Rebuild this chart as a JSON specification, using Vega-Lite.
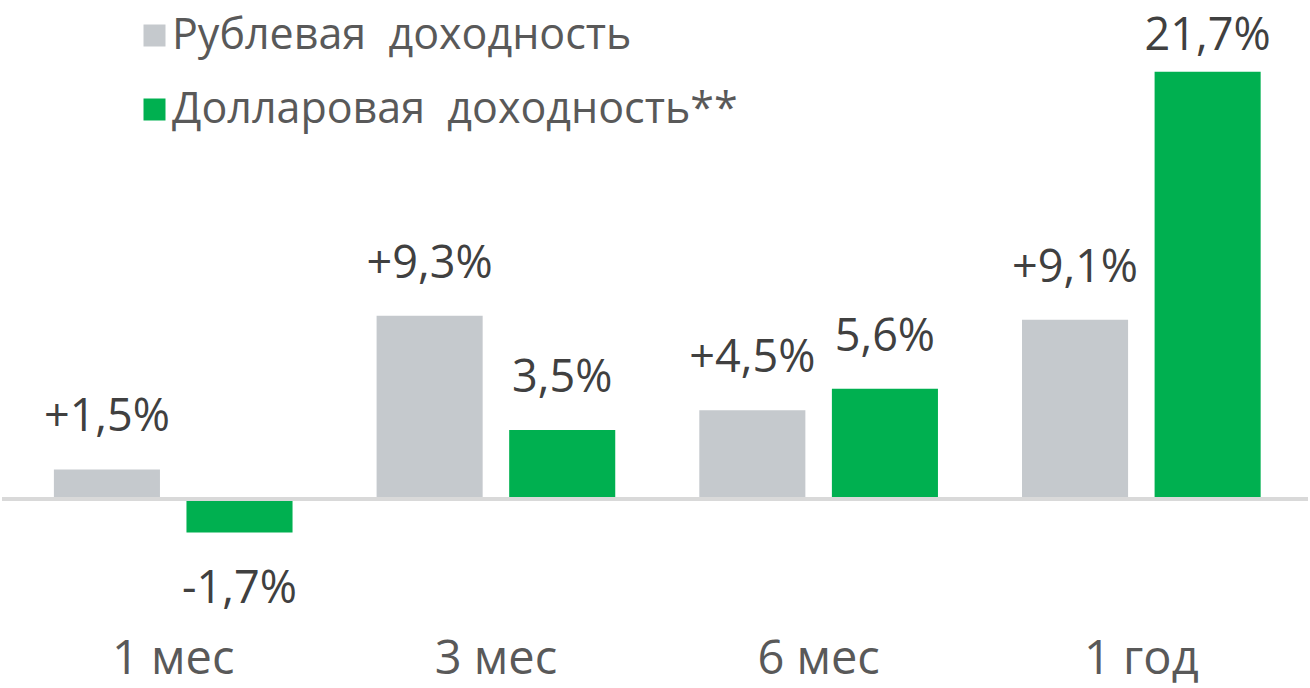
{
  "$schema": "https://vega.github.io/schema/vega-lite/v6.json",
  "width": 1310,
  "height": 688,
  "autosize": {"type": "fit", "contains": "padding"},
  "padding": 0,
  "background": "white",
  "config": {"view": {"stroke": null}, "font": "Open Sans"},
  "data": {
    "values": [
      {"period": "1 мес", "series": "Рублевая доходность", "value": 1.5, "label": "+1,5%"},
      {"period": "1 мес", "series": "Долларовая доходность**", "value": -1.7, "label": "-1,7%"},
      {"period": "3 мес", "series": "Рублевая доходность", "value": 9.3, "label": "+9,3%"},
      {"period": "3 мес", "series": "Долларовая доходность**", "value": 3.5, "label": "3,5%"},
      {"period": "6 мес", "series": "Рублевая доходность", "value": 4.5, "label": "+4,5%"},
      {"period": "6 мес", "series": "Долларовая доходность**", "value": 5.6, "label": "5,6%"},
      {"period": "1 год", "series": "Рублевая доходность", "value": 9.1, "label": "+9,1%"},
      {"period": "1 год", "series": "Долларовая доходность**", "value": 21.7, "label": "21,7%"}
    ]
  },
  "layer": [
    {
      "mark": {"type": "bar", "opacity": 1},
      "encoding": {
        "x": {
          "field": "period", "type": "nominal",
          "sort": ["1 мес", "3 мес", "6 мес", "1 год"],
          "scale": {"paddingInner": 0, "paddingOuter": 0.0235, "align": 0.65},
          "axis": null
        },
        "xOffset": {
          "field": "series", "type": "nominal",
          "sort": ["Рублевая доходность", "Долларовая доходность**"],
          "scale": {"paddingInner": 0.2, "paddingOuter": 0.317}
        },
        "y": {
          "field": "value", "type": "quantitative",
          "scale": {"domain": [-9.6, 25.34], "nice": false, "zero": false},
          "axis": null
        },
        "color": {
          "field": "series", "type": "nominal",
          "scale": {
            "domain": ["Рублевая доходность", "Долларовая доходность**"],
            "range": ["#C5C9CD", "#00B050"]
          },
          "legend": {
            "orient": "none",
            "legendX": 131,
            "legendY": 14,
            "title": null,
            "direction": "vertical",
            "symbolType": "square",
            "symbolSize": 484,
            "symbolStrokeWidth": 0,
            "symbolOpacity": 1,
            "labelFont": "Open Sans",
            "labelFontSize": 43,
            "labelColor": "#595959",
            "labelOffset": -4,
            "labelLimit": 800,
            "rowPadding": 30,
            "padding": 0,
            "labelExpr": "replace(datum.label, ' ', '\u00a0\u00a0')"
          }
        }
      }
    },
    {
      "transform": [{"filter": "datum.value >= 0 && datum.value < 20"}],
      "mark": {"type": "text", "baseline": "alphabetic", "align": "center", "dy": -38, "fontSize": 45, "color": "#404040", "font": "Open Sans"},
      "encoding": {
        "x": {"field": "period", "type": "nominal", "sort": ["1 мес", "3 мес", "6 мес", "1 год"]},
        "xOffset": {"field": "series", "type": "nominal", "sort": ["Рублевая доходность", "Долларовая доходность**"]},
        "y": {"field": "value", "type": "quantitative"},
        "text": {"field": "label"}
      }
    },
    {
      "transform": [{"filter": "datum.value >= 20"}],
      "mark": {"type": "text", "baseline": "alphabetic", "align": "center", "dy": -22, "fontSize": 45, "color": "#404040", "font": "Open Sans"},
      "encoding": {
        "x": {"field": "period", "type": "nominal", "sort": ["1 мес", "3 мес", "6 мес", "1 год"]},
        "xOffset": {"field": "series", "type": "nominal", "sort": ["Рублевая доходность", "Долларовая доходность**"]},
        "y": {"field": "value", "type": "quantitative"},
        "text": {"field": "label"}
      }
    },
    {
      "transform": [{"filter": "datum.value < 0"}],
      "mark": {"type": "text", "baseline": "alphabetic", "align": "center", "dy": 71, "fontSize": 45, "color": "#404040", "font": "Open Sans"},
      "encoding": {
        "x": {"field": "period", "type": "nominal", "sort": ["1 мес", "3 мес", "6 мес", "1 год"]},
        "xOffset": {"field": "series", "type": "nominal", "sort": ["Рублевая доходность", "Долларовая доходность**"]},
        "y": {"field": "value", "type": "quantitative"},
        "text": {"field": "label"}
      }
    },
    {
      "transform": [{"filter": "datum.series == 'Рублевая доходность'"}],
      "mark": {"type": "text", "baseline": "alphabetic", "align": "center", "fontSize": 47, "color": "#595959", "font": "Open Sans"},
      "encoding": {
        "x": {"field": "period", "type": "nominal", "sort": ["1 мес", "3 мес", "6 мес", "1 год"]},
        "y": {"datum": -8.89},
        "text": {"field": "period"}
      }
    },
    {
      "mark": {"type": "rule", "color": "#D9D9D9", "strokeWidth": 4},
      "encoding": {"y": {"datum": 0}}
    }
  ]
}
